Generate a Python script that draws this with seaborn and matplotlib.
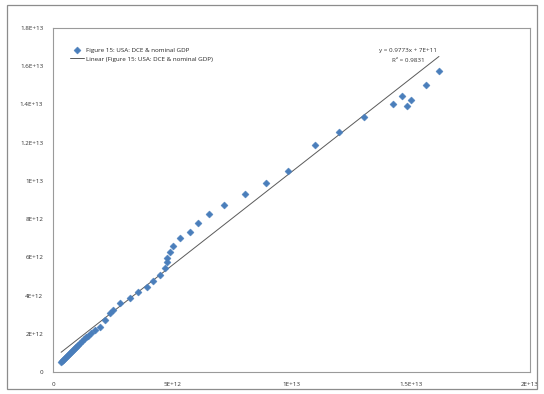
import numpy as np
import pandas as pd
import matplotlib
matplotlib.use("Agg")
import matplotlib.pyplot as plt
import seaborn as sns
from matplotlib.patches import Rectangle

# values, in units of 1E+12
gdp = [0.34, 0.38, 0.42, 0.46, 0.50, 0.55, 0.59, 0.63, 0.67, 0.71, 0.75, 0.80,
       0.84, 0.88, 0.92, 0.96, 1.01, 1.05, 1.13, 1.22, 1.30, 1.38, 1.47,
       1.59, 1.76, 1.97, 2.18, 2.39, 2.52, 2.81, 3.23, 3.56, 3.94, 4.19, 4.49,
       4.70, 4.78, 4.78, 4.91, 5.03, 5.32, 5.74, 6.08, 6.54, 7.17,
       8.05, 8.93, 9.85, 10.99, 11.99, 13.04, 14.26, 14.63, 14.84, 15.01,
       15.64, 16.18]
dce = [0.52, 0.58, 0.63, 0.68, 0.73, 0.79, 0.84, 0.89, 0.94, 0.99, 1.05, 1.10,
       1.15, 1.20, 1.26, 1.31, 1.36, 1.41, 1.52, 1.62, 1.73, 1.83, 1.88,
       2.04, 2.20, 2.36, 2.72, 3.09, 3.25, 3.61, 3.87, 4.19, 4.45, 4.76, 5.08,
       5.45, 5.76, 5.97, 6.28, 6.60, 7.02, 7.33, 7.80, 8.27, 8.74,
       9.32, 9.90, 10.52, 11.88, 12.57, 13.35, 14.03, 14.45, 13.93, 14.24,
       15.03, 15.76]

slope = 0.9773
intercept = 7e11

xticks = [0, 5e12, 1e13, 1.5e13, 2e13]
xticklabels = ["0", "5E+12", "1E+13", "1.5E+13", "2E+13"]
yticks = [0, 2e12, 4e12, 6e12, 8e12, 1e13, 1.2e13, 1.4e13, 1.6e13, 1.8e13]
yticklabels = ["0", "2E+12", "4E+12", "6E+12", "8E+12", "1E+13", "1.2E+13",
               "1.4E+13", "1.6E+13", "1.8E+13"]

series_name = "Figure 15: USA: DCE & nominal GDP"

df = pd.DataFrame({"gdp": np.array(gdp) * 1e12, "dce": np.array(dce) * 1e12})

sns.set_style("white")
plt.rcParams["font.family"] = ["Open Sans", "DejaVu Sans"]

fig = plt.figure(figsize=(5.44, 3.94), dpi=100)
ax = fig.add_axes([0.0974, 0.0558, 0.877, 0.873])

sns.scatterplot(data=df, x="gdp", y="dce", marker="D", s=13, color="#4a7ebb",
                edgecolor="#4a7ebb", linewidth=0.3, ax=ax, label=series_name, zorder=3)

xs = np.array([df["gdp"].min(), df["gdp"].max()])
ax.plot(xs, slope * xs + intercept, color="#5a5a5a", lw=0.7,
        label="Linear (" + series_name + ")", zorder=2)

ax.set_xlim(0, 2e13)
ax.set_ylim(0, 1.8e13)
ax.set_xticks(xticks)
ax.set_xticklabels(xticklabels)
ax.set_yticks(yticks)
ax.set_yticklabels(yticklabels)
ax.set_xlabel("")
ax.set_ylabel("")
ax.tick_params(axis="both", labelsize=4.5, length=3, width=0.6, color="#868686",
               direction="out", labelcolor="#333333", pad=4)
for s in ax.spines.values():
    s.set_color("#9a9a9a")
    s.set_linewidth(0.8)

ax.legend(loc="upper left", bbox_to_anchor=(0.03, 0.95), frameon=False,
          fontsize=4.5, handlelength=2.2, handletextpad=0.4, labelspacing=0.5,
          borderaxespad=0)

ax.text(0.745, 0.935, "y = 0.9773x + 7E+11", transform=ax.transAxes,
        fontsize=4.5, ha="center", va="center", color="#333333")
ax.text(0.745, 0.905, "R² = 0.9831", transform=ax.transAxes,
        fontsize=4.5, ha="center", va="center", color="#333333")

fig.patches.append(Rectangle((7 / 544, 5 / 394), 530 / 544, 384 / 394,
                             transform=fig.transFigure, fill=False,
                             edgecolor="#8c8c8c", lw=0.9))

fig.savefig("out.png", dpi=100)
